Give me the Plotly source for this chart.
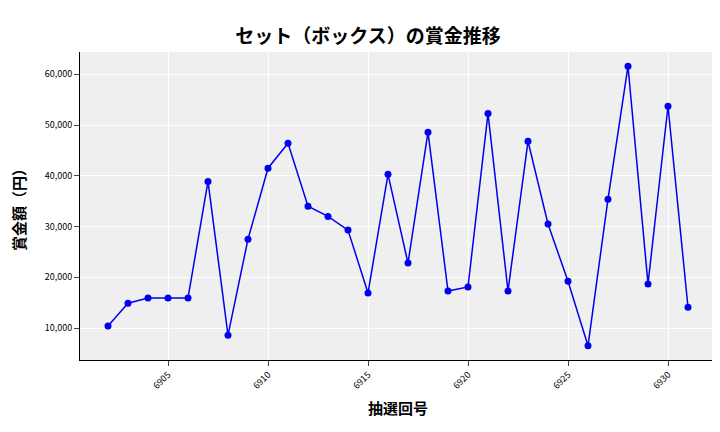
import plotly.graph_objects as go

draws = list(range(6902, 6932))
prizes = [10400, 14900, 15900, 15900, 15900, 38900, 8600, 27500, 41500, 46400,
          34000, 32000, 29300, 16900, 40300, 22800, 48600, 17300, 18100, 52300,
          17300, 46800, 30500, 19200, 6500, 35400, 61600, 18700, 53700, 14100]

font = "Noto Sans CJK JP"
fig = go.Figure(go.Scatter(x=draws, y=prizes, mode="lines+markers",
                           line=dict(color="#0000ee", width=1.5),
                           marker=dict(color="#0000ee", size=7)))
fig.update_layout(
    width=720, height=432, margin=dict(l=72, r=12, t=44, b=80),
    paper_bgcolor="white", plot_bgcolor="#efefef", showlegend=False,
    font=dict(family=font, color="black"),
    title=dict(text="<b>セット（ボックス）の賞金推移</b>", x=0.5, xanchor="center", y=0.95,
               font=dict(size=19, family=font)),
)
fig.update_xaxes(title=dict(text="<b>抽選回号</b>", font=dict(size=15), standoff=12),
                 tickvals=[6905, 6910, 6915, 6920, 6925, 6930],
                 tickangle=-45, tickfont=dict(size=9), gridcolor="white", showline=True,
                 linecolor="black", ticks="outside", range=[6900.6, 6932.4], zeroline=False)
fig.update_yaxes(title=dict(text="<b>賞金額（円）</b>", font=dict(size=15)), tickformat=",", tickfont=dict(size=9),
                 gridcolor="white", showline=True, linecolor="black", ticks="outside",
                 range=[3700, 64400], dtick=10000, zeroline=False)
fig.write_html("out.html")
